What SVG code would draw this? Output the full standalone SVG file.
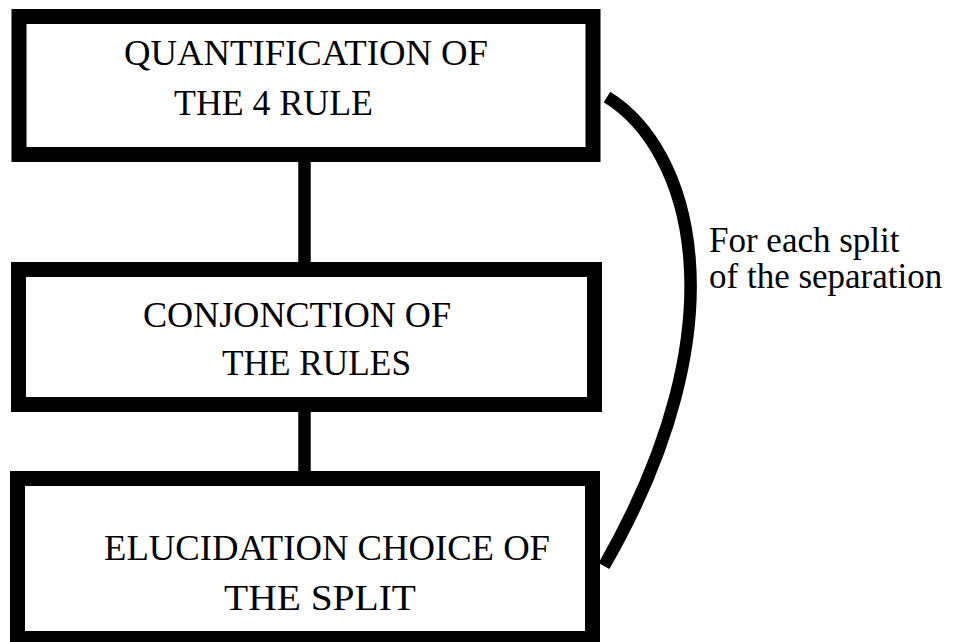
<svg xmlns="http://www.w3.org/2000/svg" width="959" height="642" viewBox="0 0 959 642">
<style>
.box{fill:#fff;stroke:#000;stroke-width:15}
.t{font-family:"Liberation Serif","Times New Roman",serif;font-size:35px;fill:#000}
.lbl{font-family:"Liberation Serif","Times New Roman",serif;font-size:35px;fill:#000}
.conn{stroke:#000;stroke-width:12.5;fill:none}
</style>
<rect width="959" height="642" fill="#fff"/>
<g id="connectors">
<line class="conn" x1="304.5" y1="160" x2="304.5" y2="264"/>
<line class="conn" x1="304.5" y1="410" x2="304.5" y2="473"/>
<path class="conn" d="M 607 97 C 690 148 745 320 604 566"/>
</g>
<g id="n1">
<rect class="box" x="19" y="16.5" width="574" height="138"/>
<text class="t" x="124" y="65" textLength="364" lengthAdjust="spacingAndGlyphs">QUANTIFICATION OF</text>
<text class="t" x="174" y="115" textLength="199" lengthAdjust="spacingAndGlyphs">THE 4 RULE</text>
</g>
<g id="n2">
<rect class="box" x="18.5" y="269.5" width="576" height="135"/>
<text class="t" x="143" y="327" textLength="308" lengthAdjust="spacingAndGlyphs">CONJONCTION OF</text>
<text class="t" x="222" y="375" textLength="189" lengthAdjust="spacingAndGlyphs">THE RULES</text>
</g>
<g id="n3">
<rect class="box" x="17.5" y="478.5" width="575" height="160"/>
<text class="t" x="104" y="560" textLength="446" lengthAdjust="spacingAndGlyphs">ELUCIDATION CHOICE OF</text>
<text class="t" x="224" y="610" textLength="192" lengthAdjust="spacingAndGlyphs">THE SPLIT</text>
</g>
<g id="label">
<text class="lbl" x="709" y="252">For each split</text>
<text class="lbl" x="709" y="288">of the separation</text>
</g>
</svg>
